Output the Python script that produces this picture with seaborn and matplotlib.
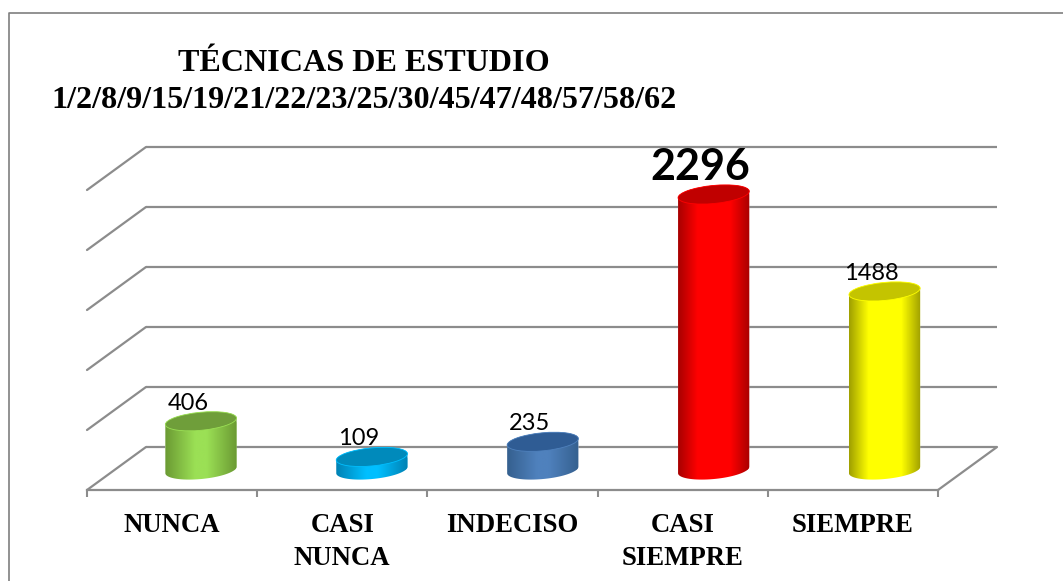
import numpy as np
import pandas as pd
import seaborn as sns
import matplotlib.pyplot as plt
from matplotlib.colors import LinearSegmentedColormap
from matplotlib.lines import Line2D
from matplotlib.patches import Ellipse
from matplotlib.path import Path
from matplotlib.transforms import IdentityTransform

categories = ["NUNCA", "CASI\nNUNCA", "INDECISO", "CASI\nSIEMPRE", "SIEMPRE"]
values = [406, 109, 235, 2296, 1488]
y_ticks = [0, 500, 1000, 1500, 2000, 2500]
title = "TÉCNICAS DE ESTUDIO\n1/2/8/9/15/19/21/22/23/25/30/45/47/48/57/58/62"

# edge, middle, top of each cylinder
edge_colors = ["#6B9A33", "#0082B4", "#35608F", "#A80000", "#A0A000"]
mid_colors = ["#9BE055", "#00BFFF", "#4F81BD", "#FF0000", "#FFFF00"]
top_colors = ["#6F9E3A", "#008ABB", "#2F5C94", "#C00000", "#C4C400"]
edge_band = [0.42, 0.42, 0.42, 0.27, 0.27]

W, H = 1063, 581
GREY = "#8C8C8C"
SCALE = 0.12  # pixels per unit


def px_axes(fig, left, right, top, bottom):
    return fig.add_axes([left / W, 1 - bottom / H, (right - left) / W, (bottom - top) / H])


sns.set_theme(style="white")
plt.rcParams["font.family"] = ["Liberation Serif", "DejaVu Sans"]

df = pd.DataFrame({"category": categories, "value": values})
fig = plt.figure(figsize=(W / 100, H / 100), dpi=100, facecolor="white")

# front plane: floor edge, ticks and labels, walls are drawn with a depth shift
ax_floor = px_axes(fig, 87, 938, 142, 490)
ax_floor.set_xlim(-0.5, 4.5)
ax_floor.set_ylim(0, 348 / SCALE)
ax_floor.patch.set_visible(False)
sns.despine(ax=ax_floor, left=True)
ax_floor.spines["bottom"].set_color(GREY)
ax_floor.spines["bottom"].set_linewidth(1.6)

depth_x = 59 / 170.2
depth_y = 43 / SCALE
ax_floor.hlines(np.array(y_ticks) + depth_y, -0.5 + depth_x, 4.5 + depth_x,
                color=GREY, lw=1.6, clip_on=False)
for t in y_ticks:
    ax_floor.plot([-0.5, -0.5 + depth_x], [t, t + depth_y], color=GREY, lw=1.6, clip_on=False)
ax_floor.plot([4.5, 4.5 + depth_x], [0, depth_y], color=GREY, lw=1.6, clip_on=False)

ax_floor.set_xticks(np.arange(-0.5, 5))
ax_floor.set_xticklabels([])
ax_floor.set_xticks(range(5), categories, minor=True, fontsize=19.3, fontweight="bold",
                    color="black", linespacing=1.42)
ax_floor.tick_params(axis="x", which="major", bottom=True, length=5, width=1.5, color=GREY)
ax_floor.tick_params(axis="x", which="minor", bottom=False, length=0, pad=16.8)
ax_floor.set_yticks([])

# middle plane: the cylinders
ax = px_axes(fig, 115.5, 970, 170, 500)
ax.patch.set_visible(False)
sns.barplot(data=df, x="category", y="value", hue="category", palette=mid_colors,
            width=71.5 / 170.9, legend=False, ax=ax)
ax.set_xlim(-0.5, 4.5)
ax.set_ylim(-10 / SCALE * 3, 2500)
ax.axis("off")

TILT = np.deg2rad(5.5)


def ellipse_pts(cx, cy, a, b, t):
    ex, ey = a * np.cos(t), b * np.sin(t)
    return np.column_stack([cx + ex * np.cos(TILT) - ey * np.sin(TILT),
                            cy + ex * np.sin(TILT) + ey * np.cos(TILT)])


gradient = np.linspace(0, 1, 200).reshape(1, -1)
for i, bar in enumerate(ax.patches):
    x0, w, h = bar.get_x(), bar.get_width(), bar.get_height()
    (left, base), (right, top) = ax.transData.transform([(x0, 0), (x0 + w, h)])
    cx, a, b = (left + right) / 2, (right - left) / 2, 9
    outline = np.vstack([ellipse_pts(cx, base, a, b, np.linspace(np.pi, 2 * np.pi, 40)),
                         ellipse_pts(cx, top, a, b, np.linspace(0, np.pi, 40))])
    body = Path(np.vstack([outline, outline[:1]]), closed=True)
    cmap = LinearSegmentedColormap.from_list(
        f"cyl{i}", [(0, edge_colors[i]), (edge_band[i], mid_colors[i]),
                    (1 - edge_band[i], mid_colors[i]), (1, edge_colors[i])])
    im = ax.imshow(gradient, cmap=cmap, aspect="auto", interpolation="bilinear", zorder=3,
                   extent=(x0, x0 + w, -300, h + 300))
    im.set_clip_path(body, IdentityTransform())
    bar.set_clip_path(body, IdentityTransform())
    ax.add_patch(Ellipse((cx, top), 2 * a, 2 * b, angle=5.5, transform=IdentityTransform(),
                         facecolor=top_colors[i], edgecolor=mid_colors[i], lw=0.6, zorder=4))
    big = values[i] == max(values)
    ax.annotate(str(values[i]), (bar.get_x() + w / 2, h), xytext=(-13, 27 if big else 18),
                textcoords="offset pixels", ha="center", va="center", color="black",
                family="Lato", fontsize=31 if big else 17, fontweight="bold" if big else "normal",
                zorder=5)
ax.set_xlim(-0.5, 4.5)
ax.set_ylim(-10 / SCALE * 3, 2500)

fig.text(363.5 / W, 1 - 82 / H, title, ha="center", va="center", fontsize=23.1,
         fontweight="bold", color="black", linespacing=1.36)

# chart frame, left and top edges only
fig.add_artist(Line2D([9 / W, 9 / W, 1], [0, 1 - 13 / H, 1 - 13 / H], color="#7F7F7F", lw=1.2))

fig.savefig("out.png", dpi=100)
